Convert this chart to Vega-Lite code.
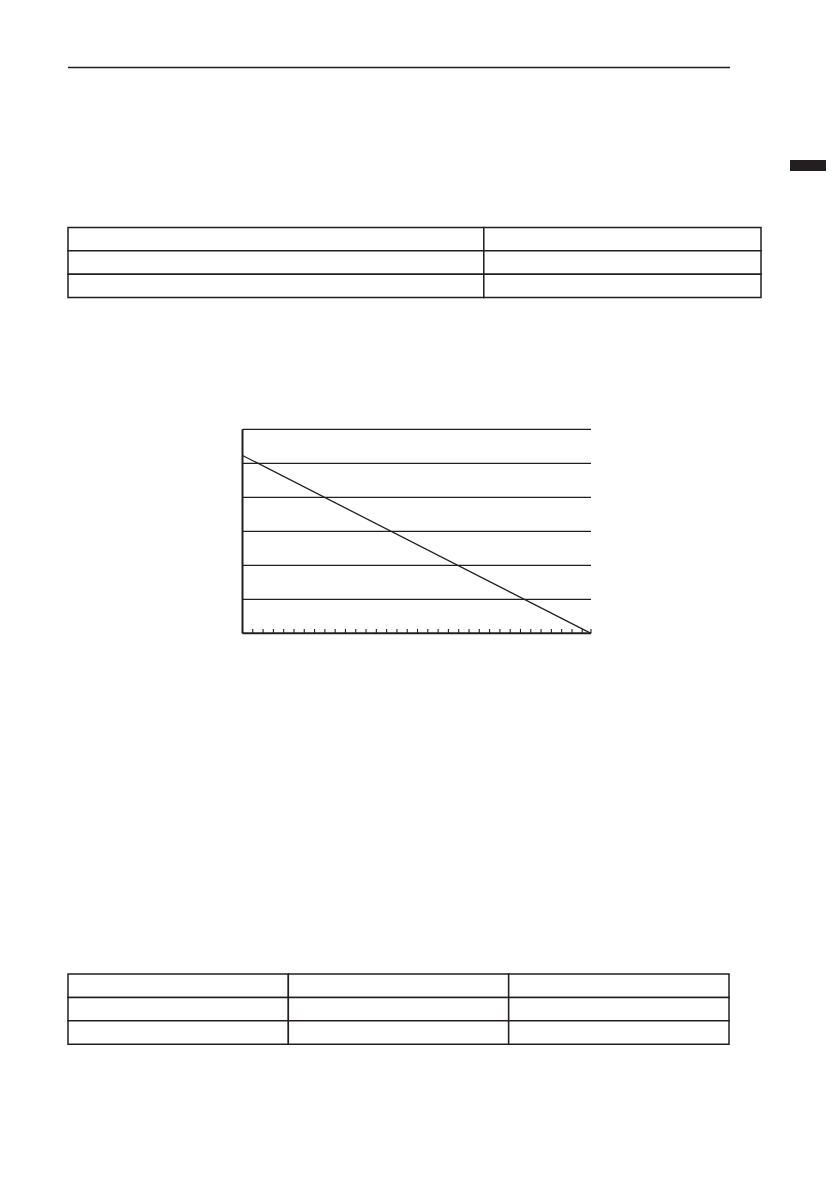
{
  "$schema": "https://vega.github.io/schema/vega-lite/v6.json",
  "width": 839,
  "height": 1191,
  "autosize": {"type": "none"},
  "padding": 0,
  "background": "white",
  "config": {"view": {"stroke": null}},
  "datasets": {
    "grid": [{"level": 1}, {"level": 2}, {"level": 3}, {"level": 4}, {"level": 5}, {"level": 6}],
    "ticks": [
      {"pos": 0}, {"pos": 1}, {"pos": 2}, {"pos": 3}, {"pos": 4}, {"pos": 5}, {"pos": 6}, {"pos": 7},
      {"pos": 8}, {"pos": 9}, {"pos": 10}, {"pos": 11}, {"pos": 12}, {"pos": 13}, {"pos": 14}, {"pos": 15},
      {"pos": 16}, {"pos": 17}, {"pos": 18}, {"pos": 19}, {"pos": 20}, {"pos": 21}, {"pos": 22}, {"pos": 23},
      {"pos": 24}, {"pos": 25}, {"pos": 26}, {"pos": 27}, {"pos": 28}, {"pos": 29}, {"pos": 30}, {"pos": 31},
      {"pos": 32}, {"pos": 33}, {"pos": 33.85}
    ],
    "curve": [{"x": 0, "value": 5.23}, {"x": 33.85, "value": 0}],
    "table1": [
      {"row": 1, "start": 0, "end": 3}, {"row": 1, "start": 3, "end": 5},
      {"row": 2, "start": 0, "end": 3}, {"row": 2, "start": 3, "end": 5},
      {"row": 3, "start": 0, "end": 3}, {"row": 3, "start": 3, "end": 5}
    ],
    "table2": [
      {"row": 1, "start": 0, "end": 1}, {"row": 1, "start": 1, "end": 2}, {"row": 1, "start": 2, "end": 3},
      {"row": 2, "start": 0, "end": 1}, {"row": 2, "start": 1, "end": 2}, {"row": 2, "start": 2, "end": 3},
      {"row": 3, "start": 0, "end": 1}, {"row": 3, "start": 1, "end": 2}, {"row": 3, "start": 2, "end": 3}
    ]
  },
  "resolve": {"scale": {"x": "independent", "y": "independent"}},
  "layer": [
    {
      "layer": [
        {
          "data": {"name": "grid"},
          "mark": {"type": "rule", "color": "#231f20", "strokeWidth": 1.2},
          "encoding": {
            "y": {"field": "level", "type": "quantitative", "axis": null, "scale": {"domain": [0, 6], "range": [633.3, 429.3], "nice": false, "zero": false}},
            "x": {"datum": 0, "type": "quantitative", "axis": null, "scale": {"domain": [0, 33.85], "range": [242.5, 591], "nice": false, "zero": false}},
            "x2": {"datum": 33.85}
          }
        },
        {
          "data": {"values": [{"part": "left axis"}]},
          "mark": {"type": "rule", "color": "#231f20", "strokeWidth": 2},
          "encoding": {
            "x": {"datum": 0, "type": "quantitative", "axis": null, "scale": {"domain": [0, 33.85], "range": [242.5, 591], "nice": false, "zero": false}},
            "y": {"datum": 0, "type": "quantitative", "axis": null, "scale": {"domain": [0, 6], "range": [633.3, 429.3], "nice": false, "zero": false}},
            "y2": {"datum": 6}
          }
        },
        {
          "data": {"values": [{"part": "bottom axis"}]},
          "mark": {"type": "rule", "color": "#231f20", "strokeWidth": 2},
          "encoding": {
            "x": {"datum": 0, "type": "quantitative", "axis": null, "scale": {"domain": [0, 33.85], "range": [242.5, 591], "nice": false, "zero": false}},
            "x2": {"datum": 33.85},
            "y": {"datum": 0, "type": "quantitative", "axis": null, "scale": {"domain": [0, 6], "range": [633.3, 429.3], "nice": false, "zero": false}}
          }
        },
        {
          "data": {"name": "ticks"},
          "mark": {"type": "rule", "color": "#231f20", "strokeWidth": 1.1},
          "encoding": {
            "x": {"field": "pos", "type": "quantitative", "axis": null, "scale": {"domain": [0, 33.85], "range": [242.5, 591], "nice": false, "zero": false}},
            "y": {"datum": 0, "type": "quantitative", "axis": null, "scale": {"domain": [0, 6], "range": [633.3, 429.3], "nice": false, "zero": false}},
            "y2": {"datum": 0.13}
          }
        },
        {
          "data": {"name": "curve"},
          "mark": {"type": "line", "color": "#231f20", "strokeWidth": 1.3},
          "encoding": {
            "x": {"field": "x", "type": "quantitative", "axis": null, "scale": {"domain": [0, 33.85], "range": [242.5, 591], "nice": false, "zero": false}},
            "y": {"field": "value", "type": "quantitative", "axis": null, "scale": {"domain": [0, 6], "range": [633.3, 429.3], "nice": false, "zero": false}}
          }
        }
      ]
    },
    {
      "data": {"name": "table1"},
      "mark": {"type": "rect", "fill": "white", "stroke": "#231f20", "strokeWidth": 1.5},
      "encoding": {
        "x": {"field": "start", "type": "quantitative", "axis": null, "scale": {"domain": [0, 5], "range": [68, 761], "nice": false, "zero": false}},
        "x2": {"field": "end"},
        "y": {"field": "row", "type": "ordinal", "axis": null, "scale": {"range": [227.5, 297.5], "paddingInner": 0, "paddingOuter": 0}}
      }
    },
    {
      "data": {"name": "table2"},
      "mark": {"type": "rect", "fill": "white", "stroke": "#231f20", "strokeWidth": 1.5},
      "encoding": {
        "x": {"field": "start", "type": "quantitative", "axis": null, "scale": {"domain": [0, 3], "range": [68, 729], "nice": false, "zero": false}},
        "x2": {"field": "end"},
        "y": {"field": "row", "type": "ordinal", "axis": null, "scale": {"range": [974, 1044.3], "paddingInner": 0, "paddingOuter": 0}}
      }
    },
    {
      "data": {"values": [{"part": "header rule"}]},
      "mark": {"type": "rule", "color": "#231f20", "strokeWidth": 1.5},
      "encoding": {
        "x": {"datum": 0, "type": "quantitative", "axis": null, "scale": {"domain": [0, 1], "range": [68, 730], "nice": false, "zero": false}},
        "x2": {"datum": 1},
        "y": {"datum": 0, "type": "quantitative", "axis": null, "scale": {"domain": [0, 1], "range": [67.5, 68.5], "nice": false, "zero": false}}
      }
    },
    {
      "data": {"values": [{"part": "section tab"}]},
      "mark": {"type": "rect", "fill": "#231f20", "stroke": null},
      "encoding": {
        "x": {"datum": 0, "type": "quantitative", "axis": null, "scale": {"domain": [0, 1], "range": [790, 826], "nice": false, "zero": false}},
        "x2": {"datum": 1},
        "y": {"datum": 0, "type": "quantitative", "axis": null, "scale": {"domain": [0, 1], "range": [160, 171], "nice": false, "zero": false}},
        "y2": {"datum": 1}
      }
    }
  ]
}
